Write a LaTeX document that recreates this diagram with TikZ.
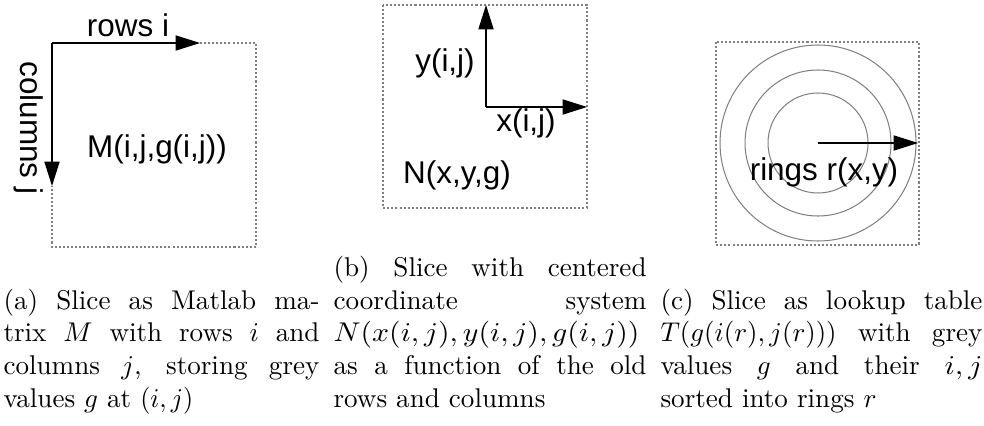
\documentclass[tikz,border=0pt]{standalone}
\usepackage{fontspec}
\usepackage{graphicx}
\newfontfamily\arialf{Liberation Sans}
\usetikzlibrary{arrows.meta}
\tikzset{
  frame/.style={draw=gray, line width=0.7pt, dash pattern=on 0.75pt off 0.75pt},
  axis/.style={draw=black, line width=0.45pt, -{Triangle[length=9pt,width=5.6pt]}},
  ring/.style={draw=gray, line width=0.38pt},
  lbl/.style={font=\arialf\fontsize{11.6}{14}\selectfont, inner sep=0pt, anchor=base},
  captext/.style={inner sep=0pt, anchor=base west, align=left, font=\fontsize{10}{12}\selectfont}
}
\newcommand{\wmath}[2]{\resizebox{#1}{\height}{$#2$}}
\begin{document}
\begin{tikzpicture}[x=0.369pt, y=-0.369pt]
\useasboundingbox (0,0) rectangle (984,425);
% ---------- panel (a)
\coordinate (aO) at (52,43);
\coordinate (aTR) at (256,43);
\coordinate (aBR) at (256,247);
\coordinate (aBL) at (52,247);
\coordinate (aRowEnd) at (200,43);
\coordinate (aColEnd) at (52,186);
\draw[frame] (aRowEnd) -- (aTR) -- (aBR) -- (aBL) -- (aColEnd);
\draw[axis] (aO) -- (aRowEnd);
\draw[axis] (aO) -- (aColEnd);
\node[lbl] (rows) at (128,36) {rows i};
\node[lbl, rotate=-90] (cols) at (20,128) {columns j};
\node[lbl] (M) at (157,157) {M(i,j,g(i,j))};
% ---------- panel (b)
\coordinate (bTL) at (383,5);
\coordinate (bBR) at (587,208);
\coordinate (bO) at (486,107);
\coordinate (bUp) at (486,5);
\coordinate (bRight) at (587,107);
\draw[frame] (bTL) rectangle (bBR);
\draw[axis] (bO) -- (bUp);
\draw[axis] (bO) -- (bRight);
\node[lbl] (yij) at (445,71) {y(i,j)};
\node[lbl] (xij) at (526,131) {x(i,j)};
\node[lbl] (N) at (457,183) {N(x,y,g)};
% ---------- panel (c)
\coordinate (cTL) at (716,42);
\coordinate (cBR) at (919,245);
\coordinate (cO) at (818,143);
\coordinate (cEnd) at (918,143);
\draw[frame] (cTL) rectangle (cBR);
\draw[ring] (cO) circle[radius=98];
\draw[ring] (cO) circle[radius=73];
\draw[ring] (cO) circle[radius=50];
\draw[axis] (cO) -- (cEnd);
\node[lbl] (rings) at (824,180) {rings r(x,y)};
% ---------- captions (anchored at the baseline of their last line)
\node[captext] (capa) at (3,407) {%
\makebox[116.6pt][s]{(a) Slice as Matlab ma-}\\
\makebox[116.6pt][s]{trix $M$ with rows $i$ and}\\
\makebox[116.6pt][s]{columns $j$, storing grey}\\
values $g$ at \wmath{19.6pt}{(i,j)}};
\node[captext] (capb) at (333,407) {%
\makebox[115.5pt][s]{(b) Slice with centered}\\
\makebox[115.5pt][s]{coordinate system}\\
\wmath{112.9pt}{N(x(i,j),y(i,j),g(i,j))}\\
\makebox[115.5pt][s]{as a function of the old}\\
rows and columns};
\node[captext] (capc) at (660,407) {%
\makebox[118.8pt][s]{(c) Slice as lookup table}\\
\makebox[118.8pt][s]{\wmath{65pt}{T(g(i(r),j(r)))} with grey}\\
\makebox[118.8pt][s]{values $g$ and their \wmath{14pt}{i,j}}\\
sorted into rings $r$};
\end{tikzpicture}
\end{document}
